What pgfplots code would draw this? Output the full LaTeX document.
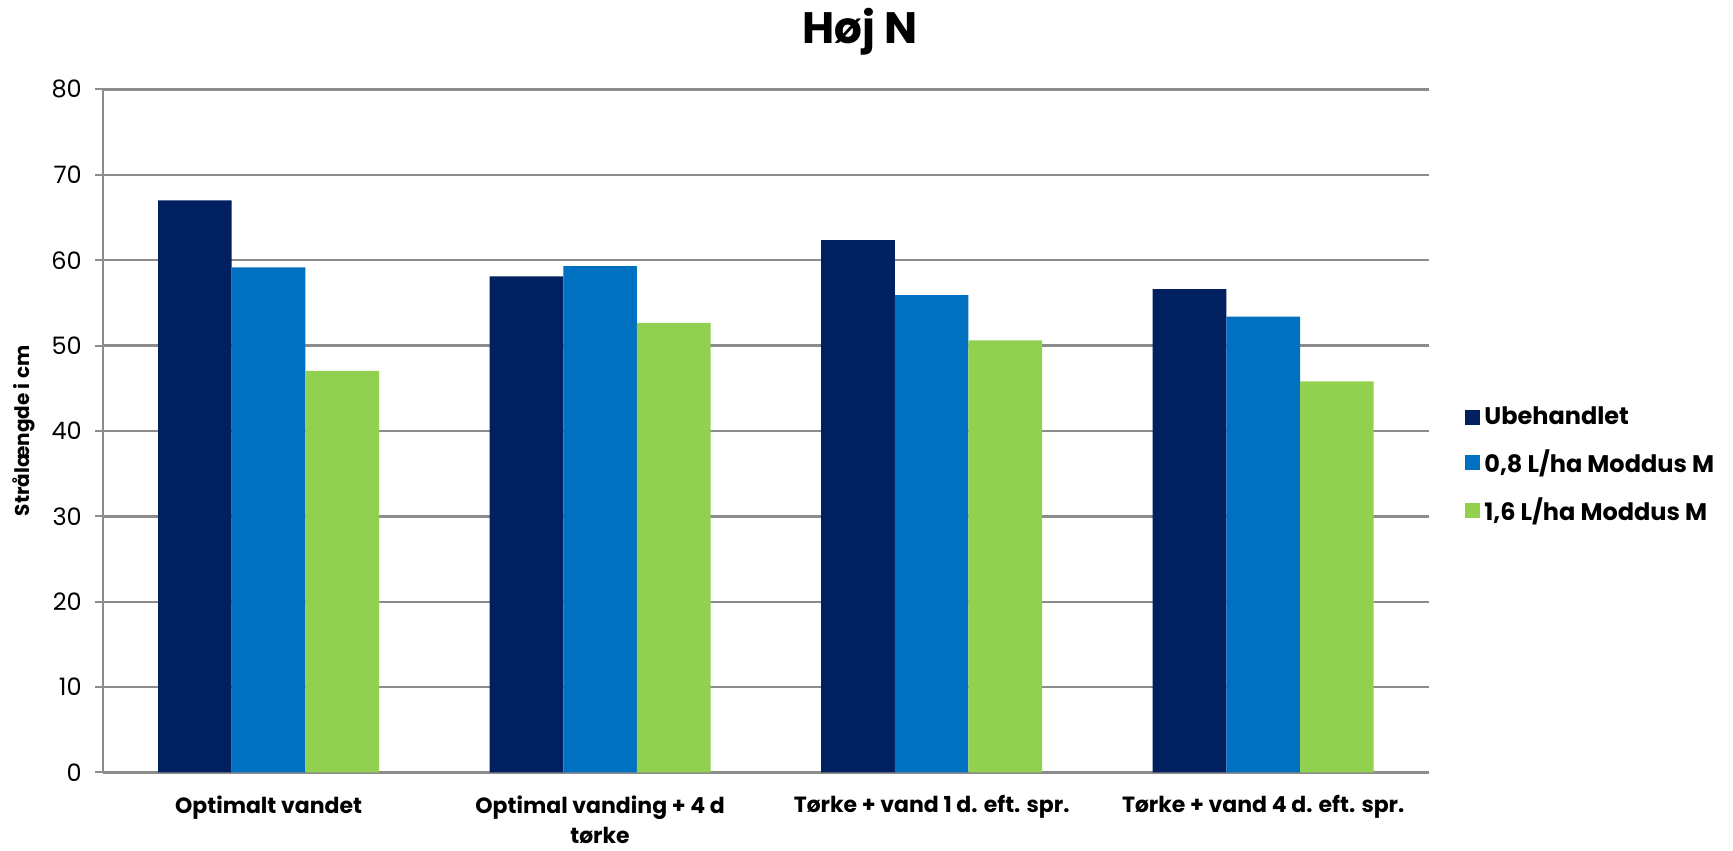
\documentclass[border=0pt]{standalone}
\usepackage{pgfplots}
\pgfplotsset{compat=1.18}
\usepackage{fontspec}
\setmainfont{Poppins}
\definecolor{cNavy}{RGB}{0,32,96}
\definecolor{cBlue}{RGB}{0,112,192}
\definecolor{cGreen}{RGB}{146,208,80}
\definecolor{cGrid}{RGB}{140,140,140}
\begin{document}
\begin{tikzpicture}
\path[use as bounding box] (-51.4pt,-39pt) rectangle (815pt,386.2pt);
\begin{axis}[
  at={(0,0)}, anchor=south west,
  scale only axis, width=663pt, height=341.5pt,
  ybar=0pt, bar width=0.2222,
  xmin=-0.5, xmax=3.5, ymin=0, ymax=80,
  axis x line*=bottom, axis y line*=left,
  axis line style={cGrid, line width=1.2pt, -},
  xtick={0,1,2,3},
  xticklabels={Optimalt vandet, Optimal vanding + 4 d\\tørke, Tørke + vand 1 d. eft. spr., Tørke + vand 4 d. eft. spr.},
  xticklabel style={font=\bfseries\fontsize{11}{15}\selectfont, align=center, anchor=north, yshift=-4pt},
  x tick style={draw=none},
  extra x ticks={-0.5,0.5,1.5,2.5,3.5},
  extra x tick labels={},
  extra x tick style={grid=none, tick style={draw=cGrid, line width=1pt}, major tick length=4pt, tick align=outside},
  ytick={0,10,...,80},
  yticklabel style={font=\fontsize{12}{14}\selectfont, xshift=-3pt},
  /pgf/number format/assume math mode=true,
  y tick style={draw=cGrid, line width=1pt},
  major tick length=4pt, tick align=outside,
  ymajorgrids, grid style={cGrid, line width=1.2pt},
  ylabel={Strålængde i cm},
  ylabel style={font=\bfseries\fontsize{10}{12}\selectfont, at={(axis description cs:-0.0594,0.5)}, anchor=center},
  legend style={draw=none, fill=none,
    font=\bfseries\fontsize{12}{14}\selectfont, row sep=7pt,
    at={(678pt,187pt)}, anchor=north west, legend cell align=left},
  legend image code/.code={\fill[#1] (0pt,-3.7pt) rectangle (7.5pt,3.7pt);},
  clip=false,
]
\addplot[fill=cNavy, draw=none] coordinates {(0,67.0) (1,58.1) (2,62.35) (3,56.6)};
\addplot[fill=cBlue, draw=none] coordinates {(0,59.15) (1,59.3) (2,55.9) (3,53.4)};
\addplot[fill=cGreen, draw=none] coordinates {(0,47.05) (1,52.65) (2,50.6) (3,45.8)};
\legend{Ubehandlet, {0,8 L/ha Moddus M}, {1,6 L/ha Moddus M}}
\end{axis}
\node[font=\bfseries\fontsize{22}{26}\selectfont] at (378.6pt,370.5pt) {Høj N};
\end{tikzpicture}
\end{document}
